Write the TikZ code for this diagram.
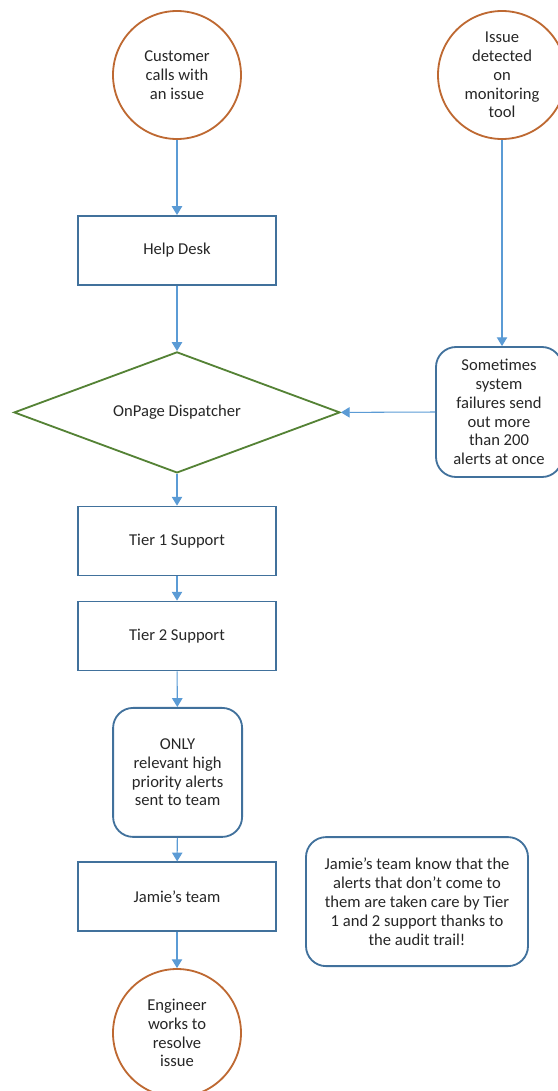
\documentclass[tikz,border=0pt]{standalone}
\usepackage{fontspec}
\setmainfont{Carlito}
\usetikzlibrary{shapes.geometric, arrows.meta}

\definecolor{circleorange}{RGB}{190,105,50}
\definecolor{boxblue}{RGB}{65,113,156}
\definecolor{diamondgreen}{RGB}{84,130,53}
\definecolor{arrowblue}{RGB}{91,155,213}

\begin{document}
\begin{tikzpicture}[
    every node/.style={font=\fontsize{11.8}{13.4}\selectfont, text=black!85, align=center},
    terminal/.style={circle, draw=circleorange, line width=1.3pt, minimum size=3.2cm, inner sep=0pt},
    process/.style={rectangle, draw=boxblue, line width=1.3pt, minimum width=4.95cm, minimum height=1.725cm},
    note/.style={rectangle, rounded corners=0.5cm, draw=boxblue, line width=1.3pt},
    decision/.style={diamond, aspect=2.7, draw=diamondgreen, line width=1.3pt, minimum width=8.15cm, minimum height=3.025cm, inner sep=0pt},
    flow/.style={draw=arrowblue, line width=0.75pt, -{Triangle[width=0.26cm, length=0.22cm]}}
  ]
    % Define page size
    \def\pageW{13.95}
    \def\pageH{27.275}
    \useasboundingbox (0,0) rectangle (\pageW,-\pageH);

    % Draw the two starting points
    \node[terminal] (customer) at (4.425,-1.875) {Customer\\calls with\\an issue};
    \node[terminal] (monitor) at (12.55,-1.875) {Issue\\detected\\on\\monitoring\\tool};

    % Draw the main column
    \node[process] (helpdesk) at (4.425,-6.26) {Help Desk};
    \node[decision] (dispatcher) at (4.425,-10.31) {OnPage Dispatcher};
    \node[process] (tierone) at (4.425,-13.525) {Tier 1 Support};
    \node[process] (tiertwo) at (4.425,-15.9) {Tier 2 Support};
    \node[note, minimum width=3.225cm, minimum height=3.225cm] (relevant) at (4.44,-19.31) {ONLY\\relevant high\\priority alerts\\sent to team};
    \node[process] (jamie) at (4.425,-22.42) {Jamie’s team};
    \node[terminal] (engineer) at (4.425,-25.825) {Engineer\\works to\\resolve\\issue};

    % Draw the side notes
    \node[note, minimum width=3.15cm, minimum height=3.25cm] (failures) at (12.475,-10.3) {Sometimes\\system\\failures send\\out more\\than 200\\alerts at once};
    \node[note, minimum width=5.55cm, minimum height=3.225cm] (audit) at (10.425,-22.54) {Jamie’s team know that the\\alerts that don’t come to\\them are taken care by Tier\\1 and 2 support thanks to\\the audit trail!};

    % Draw the arrows
    \draw[flow] (customer) -- (helpdesk);
    \draw[flow] (helpdesk) -- (dispatcher);
    \draw[flow] (monitor.south) -- (monitor.south |- failures.north);
    \draw[flow] (failures.west) -- (dispatcher.east);
    \draw[flow] (dispatcher) -- (tierone);
    \draw[flow] (tierone) -- (tiertwo);
    \draw[flow] (tiertwo) -- (relevant);
    \draw[flow] (relevant) -- (jamie);
    \draw[flow] (jamie) -- (engineer);
\end{tikzpicture}
\end{document}
